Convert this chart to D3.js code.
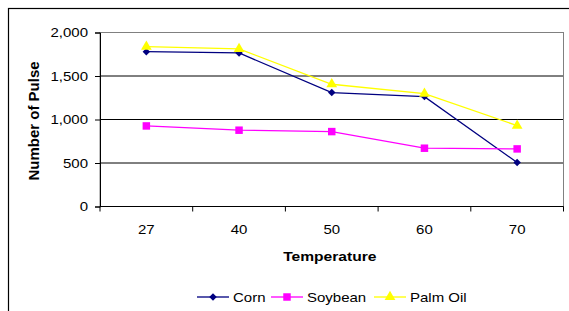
<!DOCTYPE html>
<html>
<head>
<meta charset="utf-8">
<script src="https://cdn.jsdelivr.net/npm/d3@7"></script>
<style>
  body { margin: 0; background: #fff; }
  text { font-family: Arial, "Liberation Sans", sans-serif; }
</style>
</head>
<body>
<script>
    // chart data
    var temperatures = ["27", "40", "50", "60", "70"];
    var corn = [1780, 1765, 1309, 1263, 505];
    var soybean = [926, 877, 861, 670, 662];
    var palmOil = [1837, 1811, 1405, 1297, 930];
    var yTicks = [0, 500, 1000, 1500, 2000];

    //diamond is drawn as a square turned 45 degrees
    var series = [
        {name: "Corn", values: corn, color: "#000080", marker: d3.symbolSquare, size: 28, rot: 45},
        {name: "Soybean", values: soybean, color: "#FF00FF", marker: d3.symbolSquare, size: 56, rot: 0},
        {name: "Palm Oil", values: palmOil, color: "#FFFF00", marker: d3.symbolTriangle, size: 50, rot: 0}
    ];

    var width = 569, height = 311;
    //plot area (avoid "top", it's window.top)
    var pLeft = 100, pTop = 32.5, pRight = 563.5, pBottom = 206.5;
    var sx = 1.2; //text in the picture is stretched horizontally

    var svg = d3.select("body").append("svg")
        .attr("width", width)
        .attr("height", height);

    // outer chart border
    svg.append("rect")
        .attr("x", 8.5).attr("y", 8.5)
        .attr("width", 600).attr("height", 400)
        .attr("fill", "#fff")
        .attr("stroke", "#000")
        .attr("stroke-width", 1.2);

    var x = d3.scaleBand().domain(temperatures).range([pLeft, pRight]);
    var y = d3.scaleLinear().domain([0, 2000]).range([pBottom, pTop]);

    // gridlines
    svg.append("g").selectAll("line")
        .data(yTicks.slice(1, -1))
        .join("line")
        .attr("x1", pLeft).attr("x2", pRight)
        .attr("y1", function(d){ return y(d); })
        .attr("y2", function(d){ return y(d); })
        .attr("stroke", "#000")
        .attr("stroke-width", 1);

    // plot area border
    svg.append("rect")
        .attr("x", pLeft).attr("y", pTop)
        .attr("width", pRight - pLeft).attr("height", pBottom - pTop)
        .attr("fill", "none")
        .attr("stroke", "#808080");

    // y axis
    var yAxis = svg.append("g")
        .attr("transform", "translate(" + pLeft + ",0)")
        .call(d3.axisLeft(y).tickValues(yTicks).tickSize(5).tickFormat(d3.format(",")));
    yAxis.select(".domain").attr("stroke", "#000");
    yAxis.selectAll("line").attr("stroke", "#000");
    yAxis.selectAll("text")
        .attr("x", -12 / sx)
        .attr("transform", "scale(" + sx + ",1)")
        .attr("font-size", 12.5).attr("fill", "#000")
        .attr("font-family", "Arial, 'Liberation Sans', sans-serif");

    // x axis, ticks between categories
    var xAxis = svg.append("g")
        .attr("transform", "translate(0," + pBottom + ")");
    xAxis.append("line")
        .attr("x1", pLeft).attr("x2", pRight)
        .attr("stroke", "#000");
    var edges = temperatures.map(function(d){ return x(d); }).concat([pRight]);
    xAxis.selectAll(".tk").data(edges).join("line")
        .attr("class", "tk")
        .attr("x1", function(d){ return d; }).attr("x2", function(d){ return d; })
        .attr("y1", 0).attr("y2", 5)
        .attr("stroke", "#000");
    xAxis.selectAll("text").data(temperatures).join("text")
        .attr("transform", function(d){
            return "translate(" + (x(d) + x.bandwidth() / 2) + ",27) scale(" + sx + ",1)";
        })
        .attr("text-anchor", "middle")
        .attr("font-size", 12.5)
        .text(function(d){ return d; });

    // axis titles
    svg.append("text")
        .attr("transform", "translate(" + ((pLeft + pRight) / 2 - 2) + ",260.5) scale(" + sx + ",1)")
        .attr("text-anchor", "middle")
        .attr("font-size", 13).attr("font-weight", "bold")
        .text("Temperature");
    svg.append("text")
        .attr("transform", "translate(38.5,121) rotate(-90)")
        .attr("text-anchor", "middle")
        .attr("font-size", 15).attr("font-weight", "bold")
        .text("Number of Pulse");

    // lines and markers
    var line = d3.line()
        .x(function(d, i){ return x(temperatures[i]) + x.bandwidth() / 2; })
        .y(function(d){ return y(d); });

    series.forEach(function(s){
        svg.append("path")
            .datum(s.values)
            .attr("d", line)
            .attr("fill", "none")
            .attr("stroke", s.color)
            .attr("stroke-width", 1.3);
        svg.append("g").selectAll("path")
            .data(s.values)
            .join("path")
            .attr("transform", function(d, i){
                return "translate(" + (x(temperatures[i]) + x.bandwidth() / 2) + "," + y(d) + ") rotate(" + s.rot + ")";
            })
            .attr("d", d3.symbol().type(s.marker).size(s.size))
            .attr("fill", s.color);
    });

    // legend
    var legendX = [197, 271, 374];
    var legend = svg.append("g");
    series.forEach(function(s, i){
        var g = legend.append("g").attr("transform", "translate(" + legendX[i] + ",297)");
        g.append("line")
            .attr("x1", 0).attr("x2", 32)
            .attr("stroke", s.color).attr("stroke-width", 2).attr("opacity", 0.65);
        g.append("path")
            .attr("transform", "translate(16,0) rotate(" + s.rot + ")")
            .attr("d", d3.symbol().type(s.marker).size(s.size))
            .attr("fill", s.color);
        g.append("text")
            .attr("transform", "translate(36,4.5) scale(" + sx + ",1)")
            .attr("font-size", 12.5)
            .text(s.name);
    });
</script>
</body>
</html>
